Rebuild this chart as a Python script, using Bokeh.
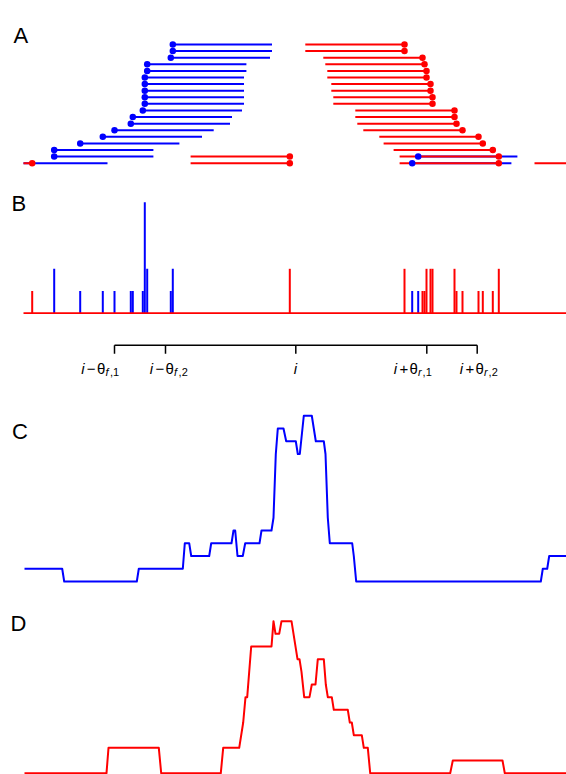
from collections import Counter
from bokeh.plotting import figure
from bokeh.models import Range1d
from bokeh.core.properties import value
from bokeh.embed import file_html
from bokeh.resources import INLINE

# ---------------- data (genomic position units) ----------------
READ_LEN = 99.2
VIEW_START, VIEW_END = 0.0, 543.0

# forward reads: 5' position (dot) and stacking row in panel A
fwd_pos = [149.3, 149.3, 147.3, 123.7, 123.7, 121.3, 121.3, 121.3, 121.3, 121.3,
           119.3, 109.3, 107.3, 91.0, 79.3, 56.7, 30.7, 30.7, -15.2, 394.7, 388.7]
fwd_row = [0, 1, 2, 3, 4, 5, 6, 7, 8, 9, 10, 11, 12, 13, 14, 15, 16, 17, 18, 17, 18]

# reverse reads: 5' position (dot, right end) and row
rev_pos = [381.0, 381.0, 399.0, 401.0, 403.0, 403.0, 407.0, 407.0, 409.0, 409.0,
           431.0, 431.0, 433.0, 439.0, 455.0, 459.3, 469.3, 475.3, 475.3,
           266.3, 266.3, 8.7, 610.2]
rev_row = [0, 1, 2, 3, 4, 5, 6, 7, 8, 9, 10, 11, 12, 13, 14, 15, 16, 17, 18,
           17, 18, 18, 18]

# panel C (forward signal) and D (reverse signal)
c_x = [1, 38.7, 40.7, 113.3, 115.3, 159.3, 161.3, 165.7, 167.7, 185.7, 187.7, 208, 210,
       211.7, 214, 219.3, 221.7, 236, 238, 248, 250, 252.3, 254.3, 260, 262.7, 272.3,
       274.3, 276.3, 280.3, 288.3, 292.3, 300.3, 302, 304.3, 306.3, 328.7, 330.3, 332.7,
       517.3, 519.3, 523.7, 525.7, 543]
c_y = [1, 1, 0, 0, 1, 1, 3, 3, 2, 2, 3, 3, 4, 4, 2, 2, 3, 3, 4, 4, 5, 10, 12, 12, 11,
       11, 10, 10, 13, 13, 11, 11, 10, 5, 3, 3, 2, 0, 0, 1, 1, 2, 2]
d_x = [1, 83, 85, 135.3, 137.7, 197.3, 199.7, 215.7, 219.7, 222, 223.7, 227.7, 248, 250,
       252, 255.7, 258, 268, 274, 276, 278, 280.7, 286, 288.3, 292, 294.3, 300.3, 302.3,
       304.3, 308.3, 310.3, 324.3, 326.3, 328.3, 330.3, 338.3, 340.3, 344.3, 346.7,
       426.7, 429.3, 479, 481.3, 543]
d_y = [0, 0, 2, 2, 0, 0, 2, 2, 4, 6, 6, 10, 10, 12, 11, 11, 12, 12, 9, 9, 8, 6, 6, 7, 7,
       9, 9, 7, 6, 6, 5, 5, 4, 4, 3, 3, 2, 2, 0, 0, 1, 1, 0, 0]

# window thresholds around position i
tick_pos = [91.0, 142.0, 272.3, 403.3, 453.7]
tick_op = ["\u2212", "\u2212", "", "+", "+"]
tick_strand = ["f", "f", "", "r", "r"]
tick_idx = ["1", "2", "", "1", "2"]
panel_labels = ["A", "B", "C", "D"]

BLUE, RED = "#0000FF", "#FF0000"

# ---------------- layout ----------------
W, H = 566, 774
X0 = 23  # pixel of position 0


def yr(p0, k):
    """range so that value v sits at pixel p0 - k*v (from top)"""
    return Range1d(start=p0 / k - H / k, end=p0 / k)


p = figure(width=W, height=H, x_range=Range1d(-X0, W - X0), y_range=Range1d(H, 0),
           output_backend="svg", toolbar_location=None, min_border=0,
           x_axis_location=None, y_axis_location=None, outline_line_color=None,
           background_fill_color="white", border_fill_color="white")
p.grid.visible = False
p.extra_y_ranges = {"A": yr(44.0, -6.594), "B": yr(312.7, 22.2),
                    "C": yr(581.0, 12.75), "D": yr(772.7, 12.67)}


def clip(starts, ends, rows):
    a, b, r = [], [], []
    for s, e, k in zip(starts, ends, rows):
        s2, e2 = max(s, VIEW_START), min(e, VIEW_END)
        if s2 < e2:
            a.append(s2); b.append(e2); r.append(k)
    return a, b, r


def inview(xs, rows):
    pts = [(x, k) for x, k in zip(xs, rows) if VIEW_START <= x <= VIEW_END]
    return [q[0] for q in pts], [q[1] for q in pts]


# ---- panel A: reads ----
fwd_end = [s + READ_LEN for s in fwd_pos]
rev_start = [e - READ_LEN for e in rev_pos]
fa, fb, fr = clip(fwd_pos, fwd_end, fwd_row)
ra, rb, rr = clip(rev_start, rev_pos, rev_row)
p.segment(x0=fa, y0=fr, x1=fb, y1=fr, line_color=BLUE, line_width=2, y_range_name="A")
p.segment(x0=ra, y0=rr, x1=rb, y1=rr, line_color=RED, line_width=2, y_range_name="A")
fdx, fdy = inview(fwd_pos, fwd_row)
rdx, rdy = inview(rev_pos, rev_row)
p.scatter(fdx, fdy, size=6.5, fill_color=BLUE, line_color=None, y_range_name="A")
p.scatter(rdx, rdy, size=6.5, fill_color=RED, line_color=None, y_range_name="A")

# ---- panel B: counts of 5' ends ----
fc = Counter(x for x in fwd_pos if VIEW_START <= x <= VIEW_END)
rc = Counter(x for x in rev_pos if VIEW_START <= x <= VIEW_END)
fx, fn = list(fc.keys()), list(fc.values())
rx, rn = list(rc.keys()), list(rc.values())
p.segment(x0=fx, y0=[0] * len(fx), x1=fx, y1=fn, line_color=BLUE, line_width=2,
          y_range_name="B")
p.segment(x0=rx, y0=[0] * len(rx), x1=rx, y1=rn, line_color=RED, line_width=2,
          y_range_name="B")
p.line([VIEW_START, VIEW_END], [0, 0], line_color=RED, line_width=1.8, y_range_name="B")

# ---- bracket with thresholds ----
BR_Y, BR_T = 344.7, 353.3
p.line([min(tick_pos), max(tick_pos)], [BR_Y, BR_Y], line_color="black", line_width=1.5)
p.segment(x0=tick_pos, y0=[BR_Y] * 5, x1=tick_pos, y1=[BR_T] * 5, line_color="black",
          line_width=1.5)

MAIN_FS, SUB_FS = 15, 11
FONT = value("Liberation Sans")
label_dx = [-33.3, -15.7, -2.0, -33.0, -17.4]
BASE_Y, SUB_Y = 368.0, 371.8
pieces = []  # (x, y, text, size, italic)
for t, op, sd, ix, dx in zip(tick_pos, tick_op, tick_strand, tick_idx, label_dx):
    x = t + dx
    pieces.append((x, BASE_Y, "i", MAIN_FS, True))
    if op:
        x += 5.6
        pieces.append((x, BASE_Y, op, MAIN_FS, False))
        x += 10.2
        pieces.append((x, BASE_Y, "\u03b8", MAIN_FS, False))
        x += 8.4
        pieces.append((x, SUB_Y, sd, SUB_FS, True))
        x += 4.6
        pieces.append((x, SUB_Y, "," + ix, SUB_FS, False))

for italic in (True, False):
    for fs in (MAIN_FS, SUB_FS):
        sel = [q for q in pieces if q[4] == italic and q[3] == fs]
        if not sel:
            continue
        p.text([q[0] for q in sel], [q[1] for q in sel], text=[q[2] for q in sel],
               text_font=FONT, text_font_size=f"{fs}px",
               text_font_style="italic" if italic else "normal",
               text_baseline="alphabetic", text_align="left", text_color="black")

# ---- panels C and D ----
p.line(c_x, c_y, line_color=BLUE, line_width=2, line_join="round", y_range_name="C")
p.line(d_x, d_y, line_color=RED, line_width=2, line_join="round", y_range_name="D")

# ---- panel letters ----
p.text([-10.0, -12.0, -11.5, -13.0], [35.0, 202.7, 431.3, 623.3], text=panel_labels,
       text_font=FONT, text_font_size="22px",
       text_baseline="alphabetic", text_align="left", text_color="black")

open("out.html", "w").write(file_html(p, INLINE))
